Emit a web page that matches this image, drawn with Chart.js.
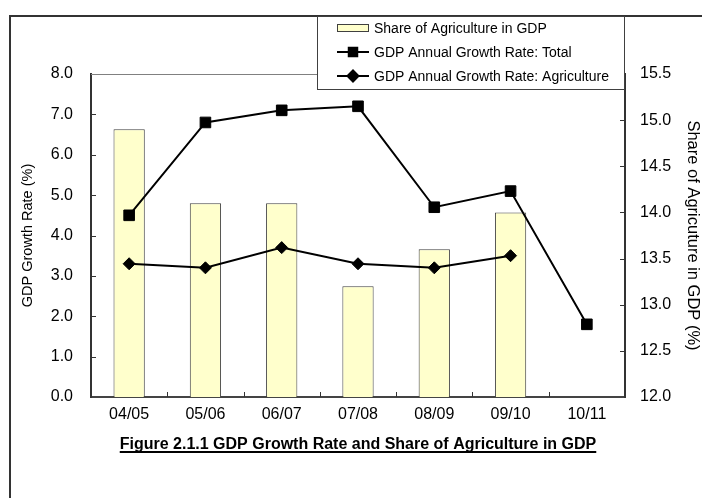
<!DOCTYPE html>
<html>
<head>
<meta charset="utf-8">
<script src="https://cdn.jsdelivr.net/npm/chart.js@4/dist/chart.umd.min.js"></script>
<style>
  html, body { margin: 0; padding: 0; background: #ffffff; }
  canvas { display: block; }
</style>
</head>
<body>
<canvas id="chart" width="702" height="498"></canvas>
<script>
// Fiscal years
const categories = ['04/05', '05/06', '06/07', '07/08', '08/09', '09/10', '10/11'];
// GDP annual growth rate, total (%)
const growthTotal = [4.5, 6.8, 7.1, 7.2, 4.7, 5.1, 1.8];
// GDP annual growth rate, agriculture (%)
const growthAgriculture = [3.3, 3.2, 3.7, 3.3, 3.2, 3.5, null];
// Share of agriculture in GDP (%)
const agricultureShare = [14.9, 14.1, 14.1, 13.2, 13.6, 14.0, null];

const seriesNames = [
  'Share of Agriculture in GDP',
  'GDP Annual Growth Rate: Total',
  'GDP Annual Growth Rate: Agriculture'
];
const leftAxisTitle = 'GDP Growth Rate (%)';
const rightAxisTitle = 'Share of Agricuture in GDP (%)';
const figureTitle = 'Figure 2.1.1 GDP Growth Rate and Share of Agriculture in GDP';

const FONT = "'Liberation Sans', Arial, Helvetica, sans-serif";
const AXIS_COLOR = '#333333';

// Border of the figure (only the left and top edges fall inside the page)
const framePlugin = {
  id: 'frame',
  beforeDraw(chart) {
    const ctx = chart.ctx;
    ctx.save();
    ctx.strokeStyle = '#333333';
    ctx.lineWidth = 2;
    ctx.beginPath();
    ctx.moveTo(10, chart.height);
    ctx.lineTo(10, 16);
    ctx.lineTo(chart.width, 16);
    ctx.stroke();
    ctx.restore();
  }
};

// Tick marks pointing into the plot area, plus the grey top edge of the plot
const innerTicksPlugin = {
  id: 'innerTicks',
  afterDatasetsDraw(chart) {
    const ctx = chart.ctx;
    const area = chart.chartArea;
    const len = 5;
    ctx.save();
    ctx.strokeStyle = '#808080';
    ctx.lineWidth = 1;
    ctx.beginPath();
    ctx.moveTo(area.left, area.top + 0.5);
    ctx.lineTo(area.right, area.top + 0.5);
    ctx.stroke();

    ctx.strokeStyle = AXIS_COLOR;
    ctx.lineWidth = 1;
    ctx.beginPath();
    const y = chart.scales.y;
    y.ticks.forEach(t => {
      const py = Math.round(y.getPixelForValue(t.value)) + 0.5;
      if (py > area.top + 2 && py < area.bottom - 2) {
        ctx.moveTo(area.left, py);
        ctx.lineTo(area.left + len, py);
      }
    });
    const y1 = chart.scales.y1;
    y1.ticks.forEach(t => {
      const py = Math.round(y1.getPixelForValue(t.value)) + 0.5;
      if (py > area.top + 2 && py < area.bottom - 2) {
        ctx.moveTo(area.right, py);
        ctx.lineTo(area.right - len, py);
      }
    });
    const x = chart.scales.x;
    for (let i = 1; i < categories.length; i++) {
      const px = Math.round((x.getPixelForValue(i - 1) + x.getPixelForValue(i)) / 2) + 0.5;
      ctx.moveTo(px, area.bottom);
      ctx.lineTo(px, area.bottom - len);
    }
    ctx.stroke();
    ctx.restore();
  }
};

// Boxed legend at the top right and the underlined figure caption
const legendAndCaptionPlugin = {
  id: 'legendAndCaption',
  afterDraw(chart) {
    const ctx = chart.ctx;
    const helpers = Chart.helpers;
    ctx.save();

    // legend box
    const bx = 317, by = 16, bw = 307, bh = 73;
    ctx.fillStyle = '#ffffff';
    ctx.fillRect(bx, by, bw, bh);
    ctx.strokeStyle = '#404040';
    ctx.lineWidth = 1;
    ctx.strokeRect(bx + 0.5, by + 0.5, bw, bh);

    const rows = [28, 52, 76];
    const sx0 = 337, sx1 = 369, sxm = 353;
    chart.data.datasets.forEach((ds, i) => {
      const ry = rows[i];
      if (ds.type === 'bar') {
        ctx.fillStyle = ds.backgroundColor;
        ctx.fillRect(sx0, ry - 4, sx1 - sx0, 8);
        ctx.strokeStyle = '#404040';
        ctx.lineWidth = 1;
        ctx.strokeRect(sx0 + 0.5, ry - 3.5, sx1 - sx0 - 1, 7);
      } else {
        ctx.strokeStyle = ds.borderColor;
        ctx.lineWidth = 2;
        ctx.beginPath();
        ctx.moveTo(sx0, ry);
        ctx.lineTo(sx1, ry);
        ctx.stroke();
        ctx.fillStyle = ds.pointBackgroundColor;
        ctx.strokeStyle = ds.pointBorderColor;
        helpers.drawPoint(ctx, {
          pointStyle: ds.pointStyle,
          radius: ds.pointStyle === 'rect' ? 6 : 5.5,
          rotation: 0,
          borderWidth: 1
        }, sxm, ry);
      }
      ctx.fillStyle = '#000000';
      ctx.font = '14px ' + FONT;
      ctx.textBaseline = 'middle';
      ctx.textAlign = 'left';
      ctx.fillText(ds.label, 374, ry + 1);
    });

    // caption
    ctx.font = 'bold 16px ' + FONT;
    ctx.fillStyle = '#000000';
    ctx.textBaseline = 'alphabetic';
    ctx.textAlign = 'left';
    const w = ctx.measureText(figureTitle).width;
    const tx = 358 - w / 2;
    const ty = 449;
    ctx.fillText(figureTitle, tx, ty);
    ctx.fillRect(tx, ty + 2, w, 2);
    ctx.restore();
  }
};

new Chart(document.getElementById('chart'), {
  data: {
    labels: categories,
    datasets: [
      {
        type: 'bar',
        label: seriesNames[0],
        data: agricultureShare,
        yAxisID: 'y1',
        backgroundColor: '#FFFFCC',
        borderColor: '#404040',
        borderWidth: 1,
        borderSkipped: false,
        categoryPercentage: 1.0,
        barPercentage: 0.41,
        order: 2
      },
      {
        type: 'line',
        label: seriesNames[1],
        data: growthTotal,
        yAxisID: 'y',
        borderColor: '#000000',
        borderWidth: 2,
        pointStyle: 'rect',
        pointRadius: 7.5,
        pointBackgroundColor: '#000000',
        pointBorderColor: '#000000',
        pointBorderWidth: 1,
        tension: 0,
        fill: false,
        spanGaps: false,
        order: 1
      },
      {
        type: 'line',
        label: seriesNames[2],
        data: growthAgriculture,
        yAxisID: 'y',
        borderColor: '#000000',
        borderWidth: 2,
        pointStyle: 'rectRot',
        pointRadius: 6,
        pointBackgroundColor: '#000000',
        pointBorderColor: '#000000',
        pointBorderWidth: 1,
        tension: 0,
        fill: false,
        spanGaps: false,
        order: 0
      }
    ]
  },
  options: {
    responsive: false,
    animation: false,
    devicePixelRatio: 1,
    layout: { padding: { top: 74, right: 0, bottom: 0, left: 0 } },
    plugins: {
      legend: { display: false },
      title: { display: false },
      tooltip: { enabled: false }
    },
    scales: {
      x: {
        type: 'category',
        offset: true,
        grid: { display: true, offset: true, drawOnChartArea: false, drawTicks: false },
        border: { display: true, color: '#444444', width: 2 },
        ticks: { color: '#000000', padding: 8, font: { family: FONT, size: 16 }, maxRotation: 0, autoSkip: false },
        afterFit(scale) { scale.height = 101; }
      },
      y: {
        type: 'linear',
        position: 'left',
        min: 0,
        max: 8,
        grid: { drawOnChartArea: false, drawTicks: false },
        border: { display: true, color: AXIS_COLOR, width: 2 },
        ticks: {
          stepSize: 1,
          color: '#000000',
          padding: 18,
          font: { family: FONT, size: 16 },
          callback: v => Number(v).toFixed(1)
        },
        title: {
          display: true,
          text: leftAxisTitle,
          color: '#000000',
          font: { family: FONT, size: 14.5 },
          padding: { top: 19, bottom: 0 }
        },
        afterFit(scale) { scale.width = 91; }
      },
      y1: {
        type: 'linear',
        position: 'right',
        min: 12,
        max: 15.5,
        beginAtZero: false,
        grid: { drawOnChartArea: false, drawTicks: false },
        border: { display: true, color: AXIS_COLOR, width: 2 },
        ticks: {
          stepSize: 0.5,
          color: '#000000',
          padding: 15,
          font: { family: FONT, size: 16 },
          callback: v => Number(v).toFixed(1)
        },
        title: {
          display: true,
          text: rightAxisTitle,
          color: '#000000',
          font: { family: FONT, size: 16.5 },
          padding: { top: 0, bottom: 0 }
        },
        afterFit(scale) { scale.width = 77; }
      }
    }
  },
  plugins: [framePlugin, innerTicksPlugin, legendAndCaptionPlugin]
});
</script>
</body>
</html>
